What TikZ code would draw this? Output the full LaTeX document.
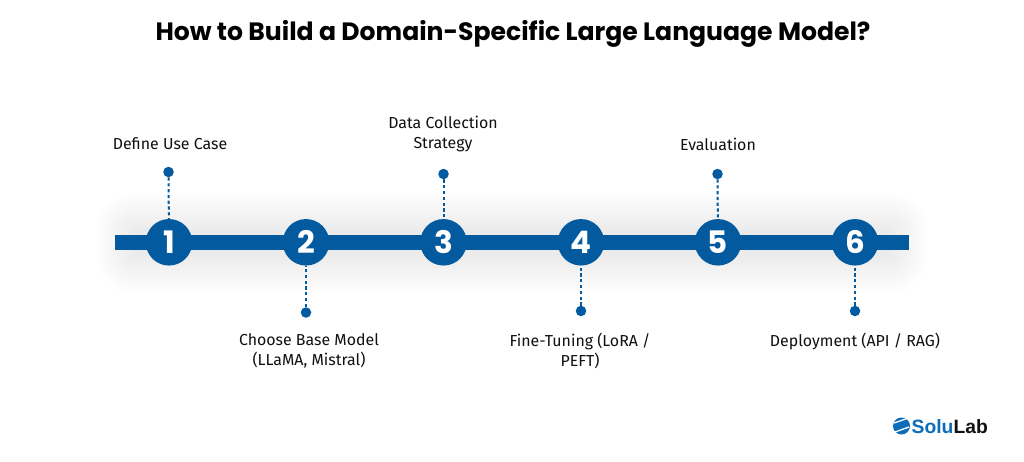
\documentclass[tikz,border=0pt]{standalone}
\usepackage{fontspec}
\setmainfont{Fira Sans}
\newfontfamily\titlefont{Poppins}
\newfontfamily\numfont{Poppins}
\newfontfamily\logofont{Liberation Sans}
\definecolor{brandblue}{HTML}{045A9E}
\definecolor{logoblue}{HTML}{0B6DB8}
\definecolor{labelink}{HTML}{111111}
\tikzset{
  x=1pt,y=-1pt,
  stepcircle/.style={circle,fill=brandblue,minimum size=46.5pt,inner sep=0pt,text=white,font=\numfont\bfseries\fontsize{31}{31}\selectfont},
  enddot/.style={circle,fill=brandblue,minimum size=10.5pt,inner sep=0pt},
  steplabel/.style={align=center,text=labelink,font=\fontsize{15.9}{20}\selectfont},
  stem/.style={draw=brandblue,line width=2pt,dash pattern=on 3.2pt off 2.6pt},
}
\begin{document}
\begin{tikzpicture}
\useasboundingbox (0,0) rectangle (1024,461);
\fill[white] (0,0) rectangle (1024,461);
% soft shadow behind the bar
\foreach \g in {2,4,...,40}{
  \fill[black,opacity=0.003,rounded corners=\g pt] (135-\g,232-\g) rectangle (889+\g,254+\g);
}
\node[font=\titlefont\bfseries\fontsize{25.1}{30}\selectfont,text=black] (title) at (513,34) {How to Build a Domain-Specific Large Language Model?};
\fill[brandblue] (115,234.8) rectangle (909,250);
\foreach \n/\x in {1/169,2/306,3/443.5,4/581,5/718,6/855}{
  \node[stepcircle] (c\n) at (\x,242.3) {\n};
}
\node[enddot] (d1) at (168.5,172) {};
\node[enddot] (d2) at (306,312.5) {};
\node[enddot] (d3) at (443.5,174) {};
\node[enddot] (d4) at (581,311) {};
\node[enddot] (d5) at (717.5,174) {};
\node[enddot] (d6) at (855,311) {};
\foreach \n in {1,...,6}{ \draw[stem] (d\n) -- (c\n); }
\node[steplabel] (l1) at (170,144) {Define Use Case};
\node[steplabel] (l2) at (309,351) {Choose Base Model\\(LLaMA, Mistral)};
\node[steplabel] (l3) at (443,134) {Data Collection\\Strategy};
\node[steplabel] (l4) at (580,351) {Fine-Tuning (LoRA /\\PEFT)};
\node[steplabel] (l5) at (718,144) {Evaluation};
\node[steplabel] (l6) at (855,341) {Deployment (API / RAG)};
% logo
\node[circle,fill=logoblue,minimum size=17pt,inner sep=0pt] (logoicon) at (901.5,426) {};
\draw[white,line width=1.3pt] (894,423) -- (907,418.5);
\draw[white,line width=1.3pt] (895,432) -- (909,427);
\node[anchor=west,inner sep=0pt,font=\logofont\bfseries\fontsize{19.3}{20}\selectfont] (logotext) at (911.5,426.5) {\textcolor{logoblue}{Solu}\textcolor{labelink}{Lab}};
\end{tikzpicture}
\end{document}
